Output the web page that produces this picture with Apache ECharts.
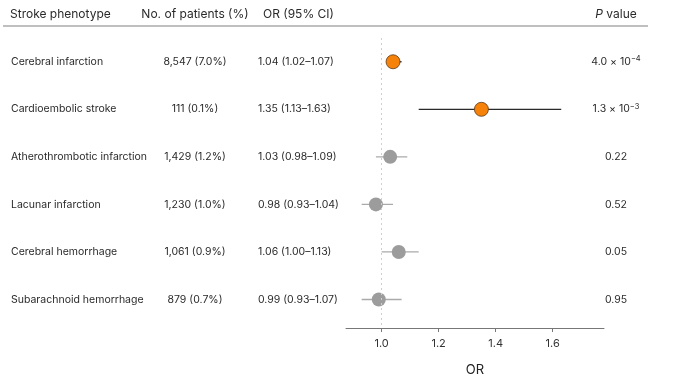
<!DOCTYPE html>
<html><head><meta charset="utf-8">
<script src="https://cdn.jsdelivr.net/npm/echarts@6/dist/echarts.min.js"></script>
<style>html,body{margin:0;padding:0;background:#fff}#c{width:673px;height:382px}</style>
</head><body><div id="c"></div>
<script>
const phenotypes = ['Cerebral infarction','Cardioembolic stroke','Atherothrombotic infarction','Lacunar infarction','Cerebral hemorrhage','Subarachnoid hemorrhage'];
const patients = ['8,547 (7.0%)','111 (0.1%)','1,429 (1.2%)','1,230 (1.0%)','1,061 (0.9%)','879 (0.7%)'];
const orValues = [1.04, 1.35, 1.03, 0.98, 1.06, 0.99];
const ciLow = [1.02, 1.13, 0.98, 0.93, 1.00, 0.93];
const ciHigh = [1.07, 1.63, 1.09, 1.04, 1.13, 1.07];
const orText = ['1.04 (1.02–1.07)','1.35 (1.13–1.63)','1.03 (0.98–1.09)','0.98 (0.93–1.04)','1.06 (1.00–1.13)','0.99 (0.93–1.07)'];
const pText = ['4.0 × 10{sup|−4}','1.3 × 10{sup|−3}','0.22','0.52','0.05','0.95'];
const significant = [true, true, false, false, false, false];
const xTicks = [1.0, 1.2, 1.4, 1.6];

const FONT = 'Inter, "Noto Sans", sans-serif';
const TXT = '#2a2a2a';
const ORANGE = '#F6820A';
const GREY = '#9C9C9C';

const chart = echarts.init(document.getElementById('c'));
const rows = phenotypes.map((p, i) => i);

chart.setOption({
  animation: false,
  grid: {left: 346, right: 69, top: 38, bottom: 52},
  xAxis: {
    type: 'value', min: 0.875, max: 1.78,
    axisLine: {onZero: false, lineStyle: {color: '#777', width: 1}},
    axisTick: {show: true, length: 4, lineStyle: {color: '#777'}, customValues: xTicks},
    splitLine: {show: false},
    axisLabel: {
      color: '#333', fontSize: 11, fontFamily: FONT, margin: 10,
      customValues: xTicks,
      formatter: v => v.toFixed(1)
    },
    name: 'OR', nameLocation: 'middle', nameGap: 36,
    nameTextStyle: {color: '#222', fontSize: 13, fontFamily: FONT}
  },
  yAxis: {type: 'value', min: -0.5, max: 5.6, inverse: true, show: false},
  series: [
    {
      type: 'custom',
      data: rows.map(i => [ciLow[i], ciHigh[i], i]),
      renderItem: (params, api) => {
        const i = api.value(2);
        const a = api.coord([api.value(0), i]);
        const b = api.coord([api.value(1), i]);
        return {
          type: 'line',
          shape: {x1: a[0], y1: a[1], x2: b[0], y2: b[1]},
          style: {stroke: significant[i] ? '#2a2a2a' : '#aaaaaa', lineWidth: 1.3}
        };
      },
      markLine: {
        silent: true, symbol: 'none', label: {show: false},
        lineStyle: {color: '#cfcfcf', type: [2, 3], width: 1},
        data: [{xAxis: 1.0}]
      },
      z: 2
    },
    {
      type: 'scatter',
      symbolSize: 14,
      data: rows.map(i => ({
        value: [orValues[i], i],
        itemStyle: significant[i]
          ? {color: ORANGE, borderColor: '#5a3a1a', borderWidth: 0.8, opacity: 1}
          : {color: GREY, borderWidth: 0, opacity: 1}
      })),
      z: 3
    },
    {
      type: 'custom',
      clip: false,
      data: rows.map(i => [1, i]),
      renderItem: (params, api) => {
        const i = api.value(1);
        const y = api.coord([1, i])[1];
        const base = {fontSize: 10.5, fontFamily: FONT, fill: TXT, verticalAlign: 'middle'};
        return {
          type: 'group',
          children: [
            {type: 'text', x: 11, y: y, style: Object.assign({}, base, {text: phenotypes[i], align: 'left'})},
            {type: 'text', x: 195, y: y, style: Object.assign({}, base, {text: patients[i], align: 'center'})},
            {type: 'text', x: 258, y: y, style: Object.assign({}, base, {text: orText[i], align: 'left'})},
            {type: 'text', x: 616, y: y, style: Object.assign({}, base, {
              text: pText[i], align: 'center',
              rich: {sup: {fontSize: 7.5, fontFamily: FONT, fill: TXT, verticalAlign: 'top', lineHeight: 14, padding: [0,0,6,0]}}
            })}
          ]
        };
      },
      z: 4
    }
  ],
  graphic: [
    {type: 'text', x: 10, y: 14, style: {text: 'Stroke phenotype', fontSize: 12, fontFamily: FONT, fill: TXT, align: 'left', verticalAlign: 'middle'}},
    {type: 'text', x: 195, y: 14, style: {text: 'No. of patients (%)', fontSize: 12, fontFamily: FONT, fill: TXT, align: 'center', verticalAlign: 'middle'}},
    {type: 'text', x: 263, y: 14, style: {text: 'OR (95% CI)', fontSize: 12, fontFamily: FONT, fill: TXT, align: 'left', verticalAlign: 'middle'}},
    {type: 'text', x: 616, y: 14, style: {
      text: '{i|P} value', fontSize: 12, fontFamily: FONT, fill: TXT, align: 'center', verticalAlign: 'middle',
      rich: {i: {fontStyle: 'italic', fontSize: 12, fontFamily: FONT, fill: TXT}}
    }},
    {type: 'line', shape: {x1: 3, y1: 26, x2: 648, y2: 26}, style: {stroke: '#aaaaaa', lineWidth: 1.5}}
  ]
});
</script>
</body></html>
